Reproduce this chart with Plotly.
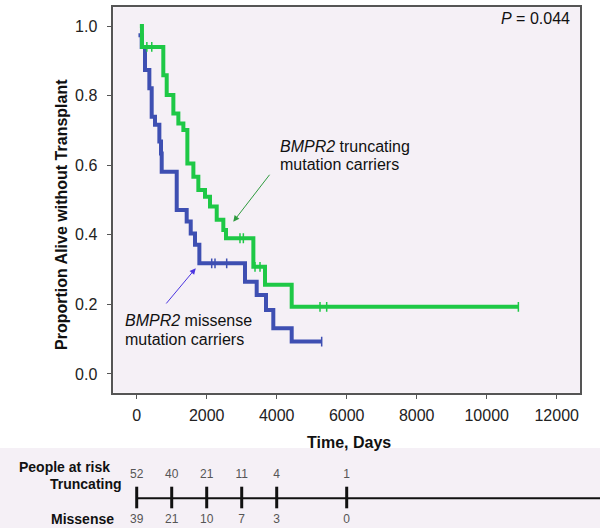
import plotly.graph_objects as go

# ---------------- data ----------------
# Truncating carriers (green): step times (days) and survival after each step
trunc_start_day = 90
trunc_times = [150, 760, 857, 1047, 1190, 1333, 1447, 1619, 1761, 1951, 2094,
               2286, 2475, 2551, 3333, 3666, 4428]
trunc_surv = [0.940, 0.859, 0.802, 0.749, 0.720, 0.701, 0.605, 0.567, 0.529,
              0.509, 0.481, 0.443, 0.414, 0.390, 0.308, 0.256, 0.193]
trunc_end_day = 10905

# Missense carriers (blue)
miss_start_day = 50
miss_start_surv = 0.974
miss_times = [143, 237, 361, 428, 523, 647, 694, 714, 1143, 1428, 1543, 1666,
              1790, 3094, 3428, 3694, 3903, 4428]
miss_surv = [0.940, 0.874, 0.821, 0.739, 0.716, 0.668, 0.634, 0.581, 0.471,
             0.438, 0.404, 0.371, 0.318, 0.265, 0.227, 0.184, 0.131, 0.093]
miss_end_day = 5285

# censoring marks
trunc_cens_days = [290, 430, 2951, 3047, 3380, 3523, 5237, 5428, 10905]
trunc_cens_surv = [0.940, 0.940, 0.390, 0.390, 0.308, 0.308, 0.193, 0.193, 0.193]
miss_cens_days = [2143, 2237, 2571, 5285]
miss_cens_surv = [0.318, 0.318, 0.318, 0.093]

# people at risk table
risk_times = [0, 1000, 2000, 3000, 4000, 6000]
risk_trunc = [52, 40, 21, 11, 4, 1]
risk_miss = [39, 21, 10, 7, 3, 0]

x_ticks = [0, 2000, 4000, 6000, 8000, 10000, 12000]
x_tick_text = ["0", "2000", "4000", "6000", "8000", "10000", "12000"]
y_ticks = [0.0, 0.2, 0.4, 0.6, 0.8, 1.0]

# ---------------- style ----------------
W, H = 600, 528
GREEN = "#1ec846"
BLUE = "#3e4fb2"
FONT = "Liberation Sans, Arial, sans-serif"
X_RANGE = [-669, 12666]
X_DOM = [113.3 / W, 580 / W]
Y_RANGE = [-0.054, 1.054]
Y_DOM = [1 - 392.7 / H, 1 - 7.3 / H]

def px(xp):
    return xp / W

def py(yp):
    return 1 - yp / H

fig = go.Figure()

fig.add_trace(go.Scatter(
    x=[miss_start_day] + miss_times + [miss_end_day],
    y=[miss_start_surv] + miss_surv + [miss_surv[-1]],
    mode="lines", line=dict(color=BLUE, width=4, shape="hv"),
    showlegend=False, hoverinfo="skip"))
fig.add_trace(go.Scatter(
    x=miss_cens_days, y=miss_cens_surv, mode="markers",
    marker=dict(symbol="line-ns", size=7, line=dict(color=BLUE, width=1.5)),
    showlegend=False, hoverinfo="skip"))

fig.add_trace(go.Scatter(
    x=[trunc_start_day] + trunc_times + [trunc_end_day],
    y=[1.0] + trunc_surv + [trunc_surv[-1]],
    mode="lines", line=dict(color=GREEN, width=4, shape="hv"),
    showlegend=False, hoverinfo="skip"))
fig.add_trace(go.Scatter(
    x=trunc_cens_days, y=trunc_cens_surv, mode="markers",
    marker=dict(symbol="line-ns", size=7, line=dict(color=GREEN, width=1.5)),
    showlegend=False, hoverinfo="skip"))

# ---- risk table on a full-width axis sharing the day scale ----
scale = (X_DOM[1] - X_DOM[0]) * W / (X_RANGE[1] - X_RANGE[0])  # px per day
x2_left = X_RANGE[0] - X_DOM[0] * W / scale
x2_right = X_RANGE[1] + (1 - X_DOM[1]) * W / scale

tick_x, tick_y = [], []
for t in risk_times:
    tick_x += [t, t, None]
    tick_y += [486.7, 508.3, None]
fig.add_trace(go.Scatter(
    x=[risk_times[0], x2_right], y=[498.3, 498.3], xaxis="x2", yaxis="y2",
    mode="lines", line=dict(color="#111", width=2), cliponaxis=False,
    showlegend=False, hoverinfo="skip"))
fig.add_trace(go.Scatter(
    x=tick_x, y=tick_y, xaxis="x2", yaxis="y2", mode="lines",
    line=dict(color="#111", width=3), cliponaxis=False,
    showlegend=False, hoverinfo="skip"))
fig.add_trace(go.Scatter(
    x=risk_times, y=[475.3] * len(risk_times), xaxis="x2", yaxis="y2",
    mode="text", text=[str(v) for v in risk_trunc],
    textfont=dict(family=FONT, size=12, color="#555"), cliponaxis=False,
    showlegend=False, hoverinfo="skip"))
fig.add_trace(go.Scatter(
    x=risk_times, y=[520] * len(risk_times), xaxis="x2", yaxis="y2",
    mode="text", text=[str(v) for v in risk_miss],
    textfont=dict(family=FONT, size=12, color="#555"), cliponaxis=False,
    showlegend=False, hoverinfo="skip"))

axis_common = dict(showgrid=False, zeroline=False, showline=True,
                   linecolor="#555", linewidth=1.5, mirror=True,
                   ticks="outside", ticklen=5, tickwidth=1, tickcolor="#555",
                   tickfont=dict(family=FONT, size=16, color="#222"))

ann = []
def text(x, y, s, size=16, bold=False, xanchor="center", angle=0, color="#111"):
    if bold:
        s = "<b>" + s + "</b>"
    ann.append(dict(x=px(x), y=py(y), xref="paper", yref="paper", text=s,
                    showarrow=False, xanchor=xanchor, yanchor="middle",
                    textangle=angle,
                    font=dict(family=FONT, size=size, color=color)))

text(571.7, 18.3, "<i>P</i> = 0.044", xanchor="right")
text(278.3, 146, "<i>BMPR2</i> truncating", xanchor="left")
text(278.3, 164.3, "mutation carriers", xanchor="left")
text(122.7, 320, "<i>BMPR2</i> missense", xanchor="left")
text(122.7, 339.3, "mutation carriers", xanchor="left")
text(61, 215, "Proportion Alive without Transplant", bold=True, angle=-90)
text(349, 442.7, "Time, Days", bold=True)
text(17.3, 466.7, "People at risk", size=14, bold=True, xanchor="left")
text(124, 483.7, "Truncating", size=14, bold=True, xanchor="right")
text(116, 518.7, "Missense", size=14, bold=True, xanchor="right")

# arrows (heads in data coordinates)
ann.append(dict(x=2760, y=0.4377, xref="x", yref="y", ax=37.4, ay=-48.4,
                axref="pixel", ayref="pixel", showarrow=True, arrowhead=2,
                arrowsize=1.2, arrowwidth=1, arrowcolor="#2e9a3e", text=""))
ann.append(dict(x=1686, y=0.3037, xref="x", yref="y", ax=-30.7, ay=36.7,
                axref="pixel", ayref="pixel", showarrow=True, arrowhead=2,
                arrowsize=1.2, arrowwidth=1, arrowcolor="#4b35e0", text=""))

fig.update_layout(
    width=W, height=H, margin=dict(l=0, r=0, t=0, b=0),
    paper_bgcolor="white", plot_bgcolor="#f5f0f6",
    showlegend=False,
    xaxis=dict(domain=X_DOM, range=X_RANGE, tickvals=x_ticks,
               ticktext=x_tick_text, ticklabelstandoff=2, **axis_common),
    yaxis=dict(domain=Y_DOM, range=Y_RANGE, tickvals=y_ticks,
               tickformat=".1f", ticklabelstandoff=6, **axis_common),
    xaxis2=dict(domain=[0, 1], range=[x2_left, x2_right], visible=False,
                anchor="y2"),
    yaxis2=dict(domain=[0, 80 / H], range=[528, 448], visible=False,
                anchor="x2"),
    annotations=ann,
)

fig.write_html("out.html")
